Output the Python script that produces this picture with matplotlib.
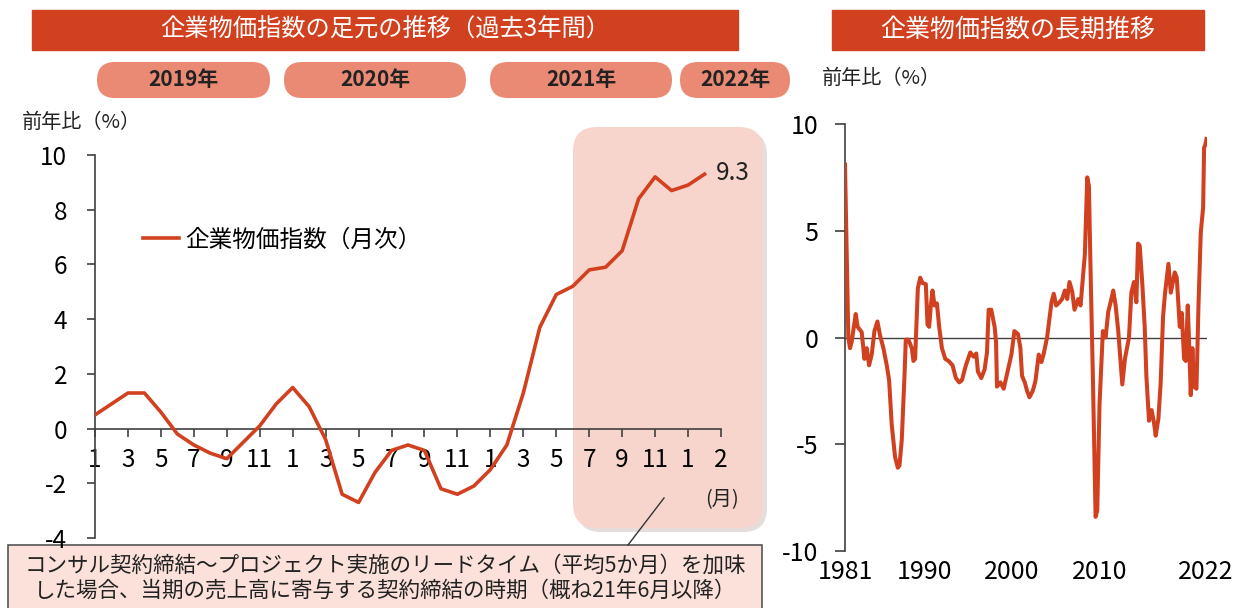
import matplotlib.pyplot as plt
from matplotlib.patches import FancyBboxPatch, Rectangle

plt.rcParams['font.family'] = ['Noto Sans CJK JP', 'DejaVu Sans']
plt.rcParams['axes.unicode_minus'] = False

RED = '#d1401f'
PILL = '#ea8a74'
SHADE = '#f7d5cd'
AXIS = '#404040'

# 企業物価指数 前年比（%）, 2019年1月 - 2022年2月
recent_values = [0.5, 0.9, 1.3, 1.3, 0.6, -0.2, -0.6, -0.9, -1.1, -0.5, 0.1, 0.9,
                 1.5, 0.8, -0.4, -2.4, -2.7, -1.6, -0.8, -0.6, -0.8, -2.2, -2.4, -2.1,
                 -1.5, -0.6, 1.3, 3.7, 4.9, 5.2, 5.8, 5.9, 6.5, 8.4, 9.2, 8.7,
                 8.9, 9.3]
recent_ticks = list(range(0, 39, 2))
recent_tick_labels = ['1', '3', '5', '7', '9', '11',
                      '1', '3', '5', '7', '9', '11',
                      '1', '3', '5', '7', '9', '11',
                      '1', '2']
year_labels = ['2019年', '2020年', '2021年', '2022年']

# 長期推移（1981 - 2022）
long_years = [1981.00, 1981.38, 1981.57, 1981.76, 1982.22, 1982.44, 1982.90, 1983.21,
              1983.47, 1983.74, 1984.04, 1984.35, 1984.69, 1984.99, 1985.37, 1985.75,
              1986.02, 1986.32, 1986.70, 1987.01, 1987.20, 1987.46, 1987.77, 1987.92,
              1988.22, 1988.60, 1988.79, 1988.98, 1989.29, 1989.56, 1989.82, 1990.20,
              1990.39, 1990.58, 1990.77, 1990.96, 1991.19, 1991.46, 1991.72, 1992.03,
              1992.41, 1992.79, 1993.24, 1993.62, 1994.00, 1994.31, 1994.76, 1995.26,
              1995.64, 1995.94, 1996.13, 1996.51, 1996.89, 1997.16, 1997.35, 1997.65,
              1998.03, 1998.19, 1998.30, 1998.68, 1999.06, 1999.44, 1999.94, 2000.28,
              2000.70, 2000.96, 2001.15, 2001.46, 2001.72, 2001.99, 2002.37, 2002.67,
              2003.05, 2003.36, 2003.62, 2004.00, 2004.50, 2004.76, 2005.03, 2005.41,
              2005.71, 2006.02, 2006.29, 2006.55, 2006.86, 2007.12, 2007.54, 2007.81,
              2008.07, 2008.30, 2008.57, 2008.76, 2008.95, 2009.21, 2009.52, 2009.71,
              2009.97, 2010.35, 2010.66, 2010.96, 2011.23, 2011.53, 2011.80, 2012.10,
              2012.37, 2012.56, 2012.86, 2013.32, 2013.59, 2013.89, 2014.16, 2014.35,
              2014.54, 2014.84, 2015.11, 2015.30, 2015.60, 2015.90, 2016.17, 2016.36,
              2016.67, 2016.93, 2017.20, 2017.43, 2017.81, 2018.08, 2018.27, 2018.53,
              2018.76, 2018.95, 2019.10, 2019.33, 2019.59, 2019.78, 2020.01, 2020.16,
              2020.35, 2020.54, 2020.73, 2021.00, 2021.23, 2021.49, 2021.76, 2021.87,
              2021.99, 2022.14]
long_values = [8.1, 0.0, -0.5, -0.2, 1.1, 0.5, 0.25, -1.0,
               -0.5, -1.3, -0.8, 0.3, 0.75, 0.1, -0.5, -1.3,
               -2.0, -4.1, -5.6, -6.1, -6.0, -4.8, -1.8, -0.1,
               -0.1, -0.5, -1.1, -1.0, 2.3, 2.8, 2.55, 2.5,
               0.6, 0.5, 1.5, 2.2, 1.5, 1.6, 0.5, -0.5,
               -1.0, -1.1, -1.3, -1.9, -2.1, -2.0, -1.3, -0.7,
               -0.9, -0.75, -1.6, -1.9, -1.5, -0.7, 1.3, 1.3,
               0.5, -0.2, -2.3, -2.1, -2.4, -1.7, -0.8, 0.3,
               0.15, -0.5, -1.8, -2.1, -2.5, -2.8, -2.5, -2.05,
               -0.8, -1.15, -0.75, 0.0, 1.65, 2.05, 1.5, 1.65,
               1.8, 2.2, 1.8, 2.6, 2.15, 1.3, 1.8, 1.5,
               2.8, 3.9, 7.5, 7.1, 3.1, -1.8, -8.4, -8.1,
               -3.1, 0.3, 0.0, 1.2, 1.65, 2.2, 1.5, 0.3,
               -1.15, -2.2, -1.0, 0.0, 2.1, 2.6, 1.65, 4.4,
               4.3, 2.5, 0.5, -1.8, -3.9, -3.4, -4.0, -4.6,
               -3.8, -2.1, 1.0, 2.1, 3.45, 2.1, 2.5, 3.05,
               2.8, 1.5, 0.5, 1.15, -1.0, -1.1, 1.5, -0.2,
               -2.7, -0.5, -2.3, -2.4, 1.5, 4.9, 6.1, 8.9,
               9.0, 9.3]
long_ticks = [1981, 1990, 2000, 2010, 2022]

fig = plt.figure(figsize=(12.46, 6.08), dpi=100)

# background layer in pixel coordinates for headers, pills, shading, note
bg = fig.add_axes([0, 0, 1, 1], zorder=0)
bg.set_xlim(0, 1246)
bg.set_ylim(608, 0)
bg.axis('off')

bg.add_patch(Rectangle((32, 10), 706, 40, color=RED))
bg.text(385, 30, '企業物価指数の足元の推移（過去3年間）', color='white',
        fontsize=17.5, ha='center', va='center')
bg.add_patch(Rectangle((832, 10), 372, 40, color=RED))
bg.text(1018, 30, '企業物価指数の長期推移', color='white',
        fontsize=18, ha='center', va='center')

pill_spans = [(97, 270), (284, 466), (490, 672), (680, 790)]
for (x0, x1), label in zip(pill_spans, year_labels):
    bg.add_patch(FancyBboxPatch((x0, 62), x1 - x0, 36,
                                boxstyle='round,pad=0,rounding_size=18',
                                fc=PILL, ec='none'))
    bg.text((x0 + x1) / 2, 80, label, fontsize=15, fontweight='bold',
            ha='center', va='center', color='#222222')

# shaded period (contracts from June 2021 onwards)
bg.add_patch(FancyBboxPatch((577, 131), 190, 401,
                            boxstyle='round,pad=0,rounding_size=24',
                            fc='#d9cfcc', ec='none', alpha=0.7))
bg.add_patch(FancyBboxPatch((573, 127), 190, 401,
                            boxstyle='round,pad=0,rounding_size=24',
                            fc=SHADE, ec='none'))
bg.text(722, 500, '(月)', fontsize=14.5, ha='center', va='center', color='#222222')

bg.plot([628, 664], [545, 498], color='#333333', lw=1)
bg.add_patch(Rectangle((8, 545), 754, 80, fc='#fbe1d9', ec='#555555', lw=1.2))
bg.text(385, 566, 'コンサル契約締結～プロジェクト実施のリードタイム（平均5か月）を加味',
        fontsize=15.5, ha='center', va='center', color='#222222')
bg.text(385, 591, 'した場合、当期の売上高に寄与する契約締結の時期（概ね21年6月以降）',
        fontsize=15.5, ha='center', va='center', color='#222222')

bg.text(22, 122, '前年比（%）', fontsize=14.5, ha='left', va='center', color='#222222')
bg.text(822, 78, '前年比（%）', fontsize=14.5, ha='left', va='center', color='#222222')

# left chart: recent months
ax1 = fig.add_axes([95 / 1246, 1 - 538 / 608, (721 - 95) / 1246, (538 - 155) / 608],
                   zorder=1)
ax1.patch.set_alpha(0)
ax1.plot(range(len(recent_values)), recent_values, color=RED, lw=2.6,
         zorder=3, label='企業物価指数（月次）')
ax1.set_xlim(0, 38)
ax1.set_ylim(-4, 10)
ax1.set_yticks(range(-4, 11, 2))
ax1.set_xticks(recent_ticks)
ax1.set_xticklabels(recent_tick_labels)
ax1.spines['top'].set_visible(False)
ax1.spines['right'].set_visible(False)
ax1.spines['bottom'].set_position(('data', 0))
for s in ('left', 'bottom'):
    ax1.spines[s].set_color(AXIS)
    ax1.spines[s].set_linewidth(1.2)
ax1.tick_params(axis='y', length=6, width=1.2, color=AXIS, pad=14, labelsize=17.5)
ax1.tick_params(axis='x', length=6, width=1.2, color=AXIS, pad=7, labelsize=17.5)
ax1.annotate(f'{recent_values[-1]}', xy=(len(recent_values) - 1, recent_values[-1]),
             xytext=(8, 1), textcoords='offset points', fontsize=17.5,
             ha='left', va='center', color='#222222')
ax1.legend(loc='center left', bbox_to_anchor=(0.077, 0.778), frameon=False,
           fontsize=17, handlelength=1.5, handletextpad=0.3,
           borderpad=0, borderaxespad=0)

# right chart: long-term
ax2 = fig.add_axes([845 / 1246, 1 - 551 / 608, (1207 - 845) / 1246, (551 - 124) / 608],
                   zorder=1)
ax2.patch.set_alpha(0)
ax2.plot(long_years, long_values, color=RED, lw=2.9, zorder=3)
ax2.axhline(0, color=AXIS, lw=1)
ax2.set_xlim(1981, 2022.2)
ax2.set_ylim(-10, 10)
ax2.set_yticks([-10, -5, 0, 5, 10])
ax2.set_xticks(long_ticks)
for s in ('top', 'right', 'bottom'):
    ax2.spines[s].set_visible(False)
ax2.spines['left'].set_color(AXIS)
ax2.spines['left'].set_linewidth(1.2)
ax2.tick_params(axis='y', length=7, width=1.2, color=AXIS, pad=12, labelsize=18)
ax2.tick_params(axis='x', length=0, pad=6, labelsize=18)

fig.savefig('out.png', dpi=100)
